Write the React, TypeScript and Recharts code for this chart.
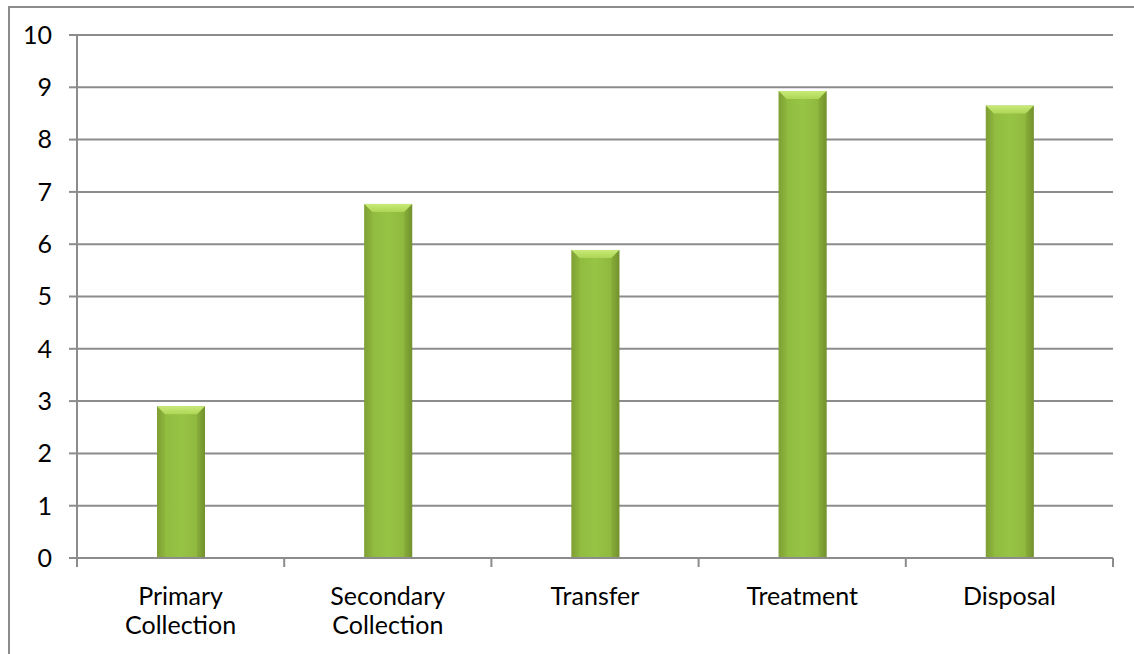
import React from 'react';
import { BarChart, Bar, XAxis, YAxis, CartesianGrid } from 'recharts';

const categories = ['Primary Collection', 'Secondary Collection', 'Transfer', 'Treatment', 'Disposal'];
const values = [2.9, 6.77, 5.89, 8.93, 8.65];
const yTicks = [0, 1, 2, 3, 4, 5, 6, 7, 8, 9, 10];

const data = categories.map((name, i) => ({ name, value: values[i] }));

const W = 1134;
const H = 654;
const xAxisHeight = 96;
const margin = { top: 35, right: 21, bottom: 0, left: 57 };
const plotWidth = W - margin.left - 20 - margin.right;
const band = plotWidth / categories.length;
const grey = '#8c8c8c';
const font = 'Lato, "Open Sans", sans-serif';

const BevelBar = (props: any) => {
  const { x, y, width, height } = props;
  if (!height || height <= 0) return null;
  const b = 8;
  return (
    <g>
      <rect x={x} y={y} width={width} height={height} fill="url(#barBody)" />
      <polygon
        points={`${x},${y} ${x + width},${y} ${x + width - b},${y + b} ${x + b},${y + b}`}
        fill="url(#barTop)"
      />
      <polygon points={`${x},${y} ${x + b},${y + b} ${x + b},${y + height} ${x},${y + height}`} fill="#7f9f35" opacity={0.25} />
      <polygon
        points={`${x + width},${y} ${x + width - b},${y + b} ${x + width - b},${y + height} ${x + width},${y + height}`}
        fill="#6f8f2a"
        opacity={0.3}
      />
    </g>
  );
};

const XTick = (props: any) => {
  const { x, y, payload, index } = props;
  const words = String(payload.value).split(' ');
  const left = x - band / 2;
  return (
    <g>
      <line x1={left} y1={y} x2={left} y2={y + 9} stroke={grey} strokeWidth={2} />
      {index === categories.length - 1 && (
        <line x1={x + band / 2} y1={y} x2={x + band / 2} y2={y + 9} stroke={grey} strokeWidth={2} />
      )}
      <text x={x} y={y + 47} textAnchor="middle" fontSize={25} fill="#000" fontFamily={font}>
        {words.map((w, i) => (
          <tspan key={i} x={x} dy={i === 0 ? 0 : 29}>
            {w}
          </tspan>
        ))}
      </text>
    </g>
  );
};

export default function App() {
  return (
    <div style={{ position: 'absolute', left: 0, top: 0, width: W, height: H, overflow: 'hidden', background: '#fff' }}>
      <div
        style={{
          position: 'absolute',
          left: 8,
          top: 6,
          width: W + 20,
          height: H + 20,
          border: `2px solid ${grey}`,
          boxSizing: 'border-box',
        }}
      />
      <div style={{ position: 'absolute', left: 0, top: 0 }}>
        <BarChart width={W} height={H} data={data} margin={margin}>
          <defs>
            <linearGradient id="barBody" x1="0" y1="0" x2="1" y2="0">
              <stop offset="0%" stopColor="#7f9f35" />
              <stop offset="15%" stopColor="#90bb3f" />
              <stop offset="50%" stopColor="#97c445" />
              <stop offset="85%" stopColor="#8fb83e" />
              <stop offset="100%" stopColor="#74922e" />
            </linearGradient>
            <linearGradient id="barTop" x1="0" y1="0" x2="0" y2="1">
              <stop offset="0%" stopColor="#c8ea78" />
              <stop offset="100%" stopColor="#aed655" />
            </linearGradient>
          </defs>
          <CartesianGrid vertical={false} stroke={grey} strokeWidth={2} />
          <XAxis
            dataKey="name"
            tickLine={false}
            tickSize={0}
            tickMargin={0}
            axisLine={{ stroke: grey, strokeWidth: 2 }}
            tick={<XTick />}
            interval={0}
            height={xAxisHeight}
          />
          <YAxis
            domain={[0, 10]}
            ticks={yTicks}
            interval={0}
            width={20}
            tickSize={8}
            tickMargin={17}
            tickLine={{ stroke: grey, strokeWidth: 2 }}
            axisLine={{ stroke: grey, strokeWidth: 2 }}
            tick={{ fill: '#000', fontSize: 25, fontFamily: font }}
          />
          <Bar dataKey="value" barSize={48} shape={<BevelBar />} isAnimationActive={false} />
        </BarChart>
      </div>
    </div>
  );
}
